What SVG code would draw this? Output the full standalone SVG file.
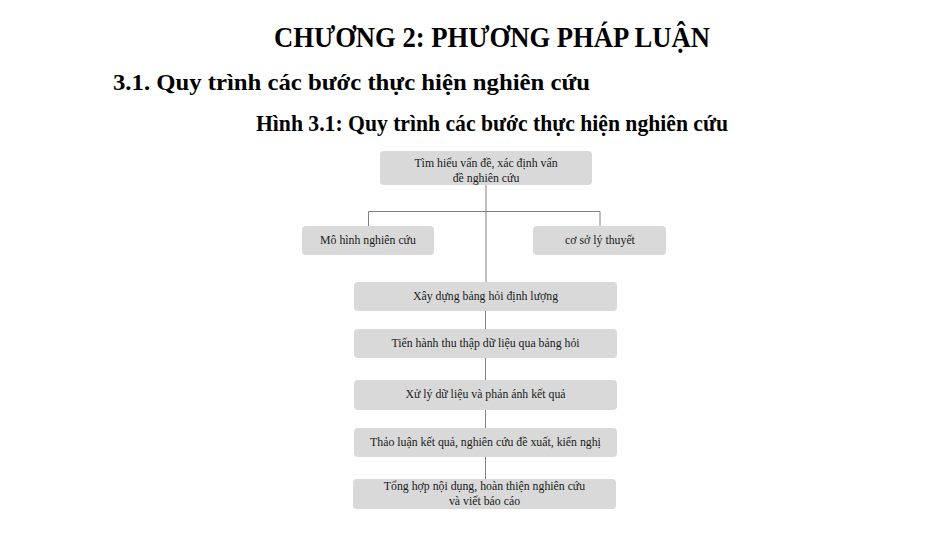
<svg xmlns="http://www.w3.org/2000/svg" width="950" height="553" viewBox="0 0 950 553">
<style>
.h{font-family:"Liberation Serif","Times New Roman",serif;font-weight:bold;fill:#000}
.box{fill:#d9d9d9}
.t{font-family:"Liberation Serif","Times New Roman",serif;font-size:11.8px;fill:#1a1a1a;text-anchor:middle}
.ln{stroke:#808080;stroke-width:1;fill:none}
</style>
<rect width="950" height="553" fill="#fff"/>
<g id="headings">
<text class="h" x="274" y="47" font-size="29" textLength="436" lengthAdjust="spacingAndGlyphs">CHƯƠNG 2: PHƯƠNG PHÁP LUẬN</text>
<text class="h" x="113" y="90" font-size="24" textLength="477" lengthAdjust="spacingAndGlyphs">3.1. Quy trình các bước thực hiện nghiên cứu</text>
<text class="h" x="256" y="131" font-size="24" textLength="472" lengthAdjust="spacingAndGlyphs">Hình 3.1: Quy trình các bước thực hiện nghiên cứu</text>
</g>
<g id="connectors">
<line class="ln" x1="486" y1="185" x2="486" y2="282"/>
<polyline class="ln" points="368.5,226 368.5,211.5 600,211.5 600,226"/>
<line class="ln" x1="485.5" y1="311" x2="485.5" y2="329"/>
<line class="ln" x1="485.5" y1="358" x2="485.5" y2="380"/>
<line class="ln" x1="485.5" y1="410" x2="485.5" y2="428"/>
<line class="ln" x1="485.5" y1="457" x2="485.5" y2="479"/>
</g>
<g id="n1">
<rect class="box" x="380" y="151" width="212" height="34" rx="4"/>
<text class="t" x="486" y="167">Tìm hiểu vấn đề, xác định vấn</text>
<text class="t" x="486" y="182">đề nghiên cứu</text>
</g>
<g id="n2">
<rect class="box" x="302" y="226" width="132" height="29" rx="4"/>
<text class="t" x="368" y="244">Mô hình nghiên cứu</text>
</g>
<g id="n3">
<rect class="box" x="533" y="226" width="133" height="29" rx="4"/>
<text class="t" x="600" y="244">cơ sở lý thuyết</text>
</g>
<g id="n4">
<rect class="box" x="354" y="282" width="263" height="29" rx="4"/>
<text class="t" x="485.5" y="300">Xây dựng bảng hỏi định lượng</text>
</g>
<g id="n5">
<rect class="box" x="354" y="329" width="263" height="29" rx="4"/>
<text class="t" x="485.5" y="347">Tiến hành thu thập dữ liệu qua bảng hỏi</text>
</g>
<g id="n6">
<rect class="box" x="354" y="380" width="263" height="30" rx="4"/>
<text class="t" x="485.5" y="398">Xử lý dữ liệu và phản ánh kết quả</text>
</g>
<g id="n7">
<rect class="box" x="354" y="428" width="263" height="29" rx="4"/>
<text class="t" x="485.5" y="446">Thảo luận kết quả, nghiên cứu đề xuất, kiến nghị</text>
</g>
<g id="n8">
<rect class="box" x="353" y="479" width="263" height="30" rx="4"/>
<text class="t" x="484.5" y="490">Tổng hợp nội dụng, hoàn thiện nghiên cứu</text>
<text class="t" x="484.5" y="505">và viết báo cáo</text>
</g>
</svg>
